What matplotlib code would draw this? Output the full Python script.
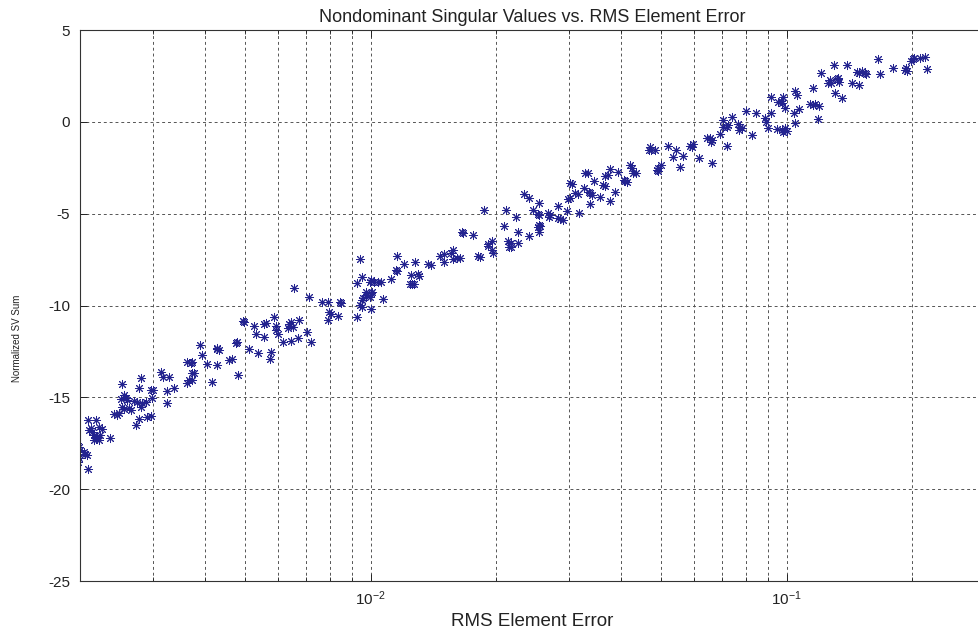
import matplotlib
matplotlib.use("Agg")
import matplotlib.pyplot as plt
from matplotlib.ticker import LogLocator, NullFormatter, FixedLocator
import numpy as np

plt.rcParams['font.family'] = ['Liberation Sans', 'DejaVu Sans']
plt.rcParams['mathtext.fontset'] = 'custom'
plt.rcParams['mathtext.rm'] = 'Liberation Sans'
plt.rcParams['mathtext.default'] = 'regular'
plt.rcParams['axes.unicode_minus'] = False

# RMS element error (x) and normalized singular value sum (y) per trial
rms_error = [
    0.00197, 0.00199, 0.00200, 0.00204, 0.00206, 0.00208, 0.00199, 0.00198, 0.00209,
    0.00209, 0.00218, 0.00210, 0.00214, 0.00222, 0.00226, 0.00216, 0.00220, 0.00224,
    0.00218, 0.00222, 0.00236, 0.00216, 0.00213,
    0.00241, 0.00245, 0.00248, 0.00252, 0.00255, 0.00262, 0.00266, 0.00280, 0.00277,
    0.00272, 0.00290, 0.00296, 0.00251, 0.00255, 0.00258, 0.00259, 0.00269, 0.00274,
    0.00282, 0.00288, 0.00323, 0.00252, 0.00280, 0.00277, 0.00296, 0.00300, 0.00323,
    0.00337, 0.00298, 0.00314, 0.00316, 0.00328, 0.00362, 0.00370, 0.00372, 0.00376,
    0.00372, 0.00366, 0.00362, 0.00372, 0.00416, 0.00404, 0.00426, 0.00389, 0.00393,
    0.00426, 0.00433, 0.00428, 0.00475, 0.00457, 0.00465, 0.00480,
    0.0116, 0.00944, 0.0115, 0.0116, 0.0120, 0.0125, 0.00952, 0.0100, 0.0102, 0.0104,
    0.0106, 0.00994, 0.0112, 0.0124, 0.0126, 0.00926, 0.00655, 0.00709, 0.00977,
    0.0100, 0.00972, 0.00961, 0.00994, 0.00952, 0.0101, 0.0107, 0.00941, 0.00951,
    0.0100, 0.00762, 0.00788, 0.00842, 0.00847, 0.00796, 0.00805, 0.00833, 0.00788,
    0.00926, 0.00497, 0.00494, 0.00525, 0.00555, 0.00561, 0.00584, 0.00593, 0.00593,
    0.00597, 0.00638, 0.00645, 0.00649, 0.00631, 0.00674, 0.00529, 0.00555, 0.00617,
    0.00645, 0.00667, 0.00701, 0.00717, 0.00477, 0.00511, 0.00535, 0.00577, 0.00574,
    0.0327, 0.0302, 0.0305, 0.0325, 0.0315, 0.0298, 0.0302, 0.0234, 0.0240, 0.0254,
    0.0282, 0.0245, 0.0187, 0.0212, 0.0253, 0.0254, 0.0267, 0.0268, 0.0270, 0.0297,
    0.0282, 0.0285, 0.0290, 0.0317, 0.0223, 0.0209, 0.0254, 0.0256, 0.0253, 0.0254,
    0.0226, 0.0240, 0.0166, 0.0167, 0.0176, 0.0214, 0.0217, 0.0226, 0.0215, 0.0217,
    0.0196, 0.0191, 0.0192, 0.0196, 0.0197, 0.0158, 0.0156, 0.0150, 0.0147, 0.0161,
    0.0164, 0.0158, 0.0150, 0.0181, 0.0183, 0.0137, 0.0140, 0.0128, 0.0130, 0.0131,
    0.0127,
    0.0799, 0.0845, 0.0739, 0.0704, 0.0888, 0.0704, 0.0719, 0.0723, 0.0765, 0.0773,
    0.0782, 0.0769, 0.0692, 0.0826, 0.0643, 0.0655, 0.0662, 0.0659, 0.0719, 0.0596,
    0.0593, 0.0586, 0.0519, 0.0470, 0.0473, 0.0483, 0.0467, 0.0543, 0.0534, 0.0564,
    0.0617, 0.0662, 0.0555, 0.0500, 0.0492, 0.0489, 0.0492, 0.0420, 0.0425, 0.0427,
    0.0434, 0.0394, 0.0407, 0.0413, 0.0409, 0.0376, 0.0372, 0.0366, 0.0333, 0.0344,
    0.0362, 0.0366, 0.0387, 0.0335, 0.0337, 0.0340, 0.0310, 0.0356, 0.0376, 0.0337,
    0.215, 0.209, 0.201, 0.199, 0.203, 0.218, 0.194, 0.193, 0.195, 0.180, 0.166,
    0.168, 0.148, 0.149, 0.154, 0.155, 0.152, 0.140, 0.130, 0.121, 0.127, 0.128,
    0.132, 0.133, 0.134, 0.126, 0.144, 0.149, 0.131, 0.136, 0.116, 0.105, 0.106,
    0.0918, 0.0981, 0.0954, 0.0976, 0.0970, 0.0992, 0.114, 0.116, 0.117, 0.120,
    0.107, 0.104, 0.0918, 0.119, 0.0893, 0.0903, 0.0949, 0.0976, 0.0992, 0.100,
    0.0981, 0.105,
]
sv_sum = [
    -17.48, -17.70, -17.86, -17.97, -18.08, -18.14, -18.30, -18.52, -18.90,
    -16.23, -16.23, -16.77, -16.88, -16.61, -16.72, -17.05, -17.16, -17.05,
    -17.21, -17.32, -17.21, -17.32, -16.67,
    -15.90, -15.96, -15.85, -15.52, -15.63, -15.58, -15.69, -15.52, -16.18,
    -16.50, -16.07, -16.01, -15.09, -14.87, -15.03, -15.14, -15.20, -15.25,
    -15.30, -15.25, -15.30, -14.27, -13.94, -14.49, -14.60, -14.60, -14.65,
    -14.49, -15.03, -13.62, -13.89, -13.89, -13.07, -13.13, -13.07, -13.67,
    -13.67, -14.05, -14.22, -14.05, -14.16, -13.18, -13.24, -12.15, -12.69,
    -12.37, -12.42, -12.31, -12.04, -12.96, -12.91, -13.78,
    -7.30, -7.47, -8.06, -8.12, -7.74, -8.34, -8.45, -8.61, -8.72, -8.72,
    -8.72, -8.72, -8.55, -8.83, -8.83, -8.77, -9.04, -9.53, -9.26,
    -9.32, -9.43, -9.59, -9.53, -9.70, -9.26, -9.64, -9.97, -10.08,
    -10.19, -9.81, -9.81, -9.81, -9.86, -10.35, -10.46, -10.57, -10.79,
    -10.62, -10.90, -10.84, -11.11, -11.00, -10.95, -10.62, -11.11, -11.33,
    -11.55, -11.00, -10.90, -11.17, -11.22, -10.79, -11.55, -11.71, -11.98,
    -11.93, -11.77, -11.44, -11.98, -11.98, -12.37, -12.58, -12.53, -12.91,
    -2.78, -3.33, -3.38, -3.60, -3.93, -4.20, -4.15, -3.93, -4.15, -4.42,
    -4.58, -4.80, -4.80, -4.80, -5.02, -5.07, -4.96, -5.18, -5.07, -4.85,
    -5.23, -5.29, -5.34, -4.96, -5.18, -5.67, -5.62, -5.67, -5.72, -6.00,
    -6.00, -6.21, -6.00, -6.05, -6.16, -6.49, -6.60, -6.60, -6.81, -6.81,
    -6.49, -6.65, -6.76, -6.98, -7.14, -6.98, -7.14, -7.19, -7.30, -7.41,
    -7.41, -7.47, -7.63, -7.30, -7.36, -7.74, -7.79, -7.63, -8.28, -8.39,
    -8.83,
    0.59, 0.48, 0.26, 0.10, 0.21, -0.27, -0.27, -0.16, -0.10, -0.27,
    -0.33, -0.44, -0.66, -0.72, -0.88, -0.88, -0.99, -1.10, -1.31, -1.21,
    -1.37, -1.31, -1.31, -1.37, -1.53, -1.53, -1.53, -1.53, -1.91, -1.86,
    -1.97, -2.24, -2.46, -2.35, -2.51, -2.62, -2.68, -2.35, -2.51, -2.78,
    -2.78, -2.73, -3.17, -3.27, -3.22, -2.57, -2.89, -2.95, -2.78, -3.22,
    -3.44, -3.49, -3.82, -3.82, -3.87, -3.98, -3.87, -4.09, -4.31, -4.47,
    3.53, 3.48, 3.42, 3.31, 3.48, 2.88, 2.93, 2.82, 2.77, 2.93, 3.42,
    2.60, 2.71, 2.66, 2.66, 2.60, 2.77, 3.09, 3.09, 2.66, 2.28, 2.11,
    2.33, 2.39, 2.17, 2.11, 2.11, 2.01, 1.57, 1.30, 1.84, 1.68, 1.46,
    1.35, 1.35, 1.08, 1.03, 1.13, 0.75, 0.97, 0.92, 0.97, 0.86,
    0.70, 0.48, 0.48, 0.16, 0.00, -0.33, -0.38, -0.44, -0.33, -0.49,
    -0.55, -0.05,
]

x_limits = (0.002, 0.3)
y_limits = (-25, 5)
y_ticks = [-25, -20, -15, -10, -5, 0, 5]

fig = plt.figure(figsize=(9.79, 6.33), dpi=100)
ax = fig.add_axes([0.0817, 0.0821, 0.9244, 0.8705])

ax.plot(rms_error, sv_sum, linestyle='none', marker=(8, 2, 0),
        markersize=6.5, markeredgewidth=0.7, color='#23238f')

ax.set_xscale('log')
ax.set_xlim(*x_limits)
ax.set_ylim(*y_limits)
ax.set_yticks(y_ticks)
ax.xaxis.set_major_locator(FixedLocator([0.01, 0.1]))
ax.xaxis.set_minor_locator(LogLocator(base=10, subs=np.arange(2, 10)))
ax.xaxis.set_minor_formatter(NullFormatter())

grid_style = dict(color='#555555', linestyle=(0, (3, 3)), linewidth=0.7)
ax.grid(True, which='major', axis='both', **grid_style)
ax.grid(True, which='minor', axis='x', **grid_style)

ax.tick_params(which='both', direction='in', top=True, right=True,
               labelsize=11, colors='#222222')
ax.tick_params(which='major', length=5, width=0.7)
ax.tick_params(axis='y', which='major', pad=7)
ax.tick_params(axis='x', which='major', pad=6)
ax.tick_params(which='minor', length=3, width=0.6)
for spine in ax.spines.values():
    spine.set_linewidth(0.8)
    spine.set_color('#333333')

ax.set_title('Nondominant Singular Values vs. RMS Element Error',
             fontsize=13, pad=6, color='#222222')
ax.set_xlabel('RMS Element Error', fontsize=13.5, color='#222222')
ax.set_ylabel('Normalized SV Sum', fontsize=7, color='#222222')
ax.yaxis.set_label_coords(-0.064, 0.44)
ax.xaxis.set_label_coords(0.5, -0.058)

fig.savefig('out.png', dpi=100, facecolor='white')
